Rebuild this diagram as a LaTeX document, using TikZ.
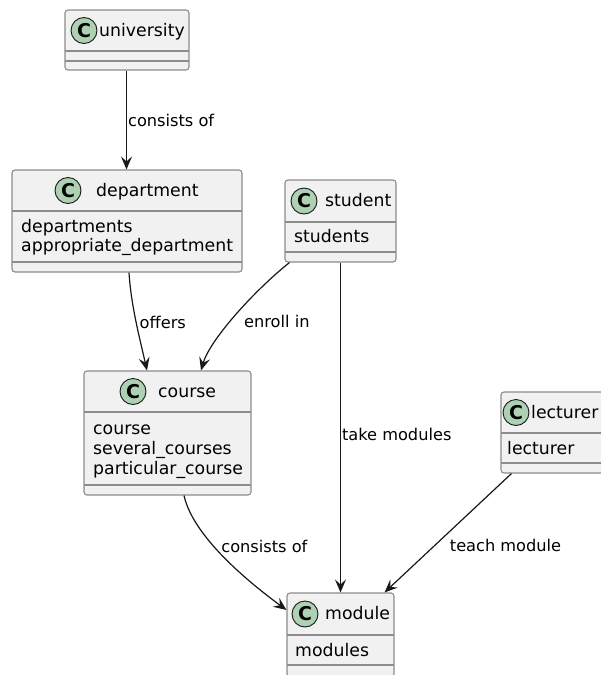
\documentclass[tikz,border=0pt]{standalone}
\usepackage{fontspec}
\setmainfont{DejaVu Sans}
\usepackage{tikz}
\usetikzlibrary{arrows.meta}

\definecolor{boxfill}{HTML}{F1F1F1}
\definecolor{boxline}{HTML}{8C8C8C}
\definecolor{circfill}{HTML}{ADD1B2}
\definecolor{arrline}{HTML}{181818}

\begin{document}
\begin{tikzpicture}[x=1pt, y=-1pt]

\tikzstyle{class_box} = [draw=boxline, fill=boxfill, line width=1.1pt, rounded corners=3pt, inner sep=0pt]
\tikzstyle{divider} = [draw=boxline, line width=1.1pt]
\tikzstyle{class_c} = [circle, draw=arrline, fill=circfill, line width=0.9pt, minimum size=26pt, inner sep=0pt, font=\fontsize{19}{19}\selectfont\bfseries]
\tikzstyle{class_name} = [anchor=base west, inner sep=0pt, font=\fontsize{17.3}{20}\selectfont]
\tikzstyle{field} = [anchor=base west, inner sep=0pt, font=\fontsize{17.3}{20}\selectfont]
\tikzstyle{edge_label} = [inner sep=1pt, font=\fontsize{16.2}{18}\selectfont]
\tikzstyle{assoc} = [-{Stealth[length=13pt, width=11pt, inset=5pt]}, draw=arrline, line width=1.2pt]

	\useasboundingbox (0,0) rectangle (601,675);
	\clip (0,0) rectangle (601,675);

%------------------------------------------------------------
	\node[class_box, minimum width=124pt, minimum height=60pt] (univ) at (127,40) {};
	\draw[divider] (65,51) -- (189,51);
	\draw[divider] (65,61) -- (189,61);
	\node[class_c] (univ_c) at (84,30.5) {C};
	\node[class_name] (univ_n) at (99,36) {university};

%------------------------------------------------------------
	\node[class_box, minimum width=230pt, minimum height=102pt] (dept) at (127,221) {};
	\draw[divider] (12,211) -- (242,211);
	\draw[divider] (12,262) -- (242,262);
	\node[class_c] (dept_c) at (68,190.5) {C};
	\node[class_name] (dept_n) at (96,196) {department};
	\node[field] (dept_f1) at (21,232) {departments};
	\node[field] (dept_f2) at (21,251.5) {appropriate\_department};

%------------------------------------------------------------
	\node[class_box, minimum width=111pt, minimum height=82pt] (stud) at (340.5,221) {};
	\draw[divider] (285,222) -- (396,222);
	\draw[divider] (285,252) -- (396,252);
	\node[class_c] (stud_c) at (304,201) {C};
	\node[class_name] (stud_n) at (325,206.5) {student};
	\node[field] (stud_f1) at (294,242.7) {students};

%------------------------------------------------------------
	\node[class_box, minimum width=167pt, minimum height=124pt] (crs) at (167.5,433) {};
	\draw[divider] (84,412) -- (251,412);
	\draw[divider] (84,485) -- (251,485);
	\node[class_c] (crs_c) at (133,391.5) {C};
	\node[class_name] (crs_n) at (158,397) {course};
	\node[field] (crs_f1) at (93,434) {course};
	\node[field] (crs_f2) at (93,454.3) {several\_courses};
	\node[field] (crs_f3) at (93,474.3) {particular\_course};

%------------------------------------------------------------
	\node[class_box, minimum width=113pt, minimum height=81pt] (lect) at (557.5,432.5) {};
	\draw[divider] (501,433) -- (614,433);
	\draw[divider] (501,463) -- (614,463);
	\node[class_c] (lect_c) at (516,412.5) {C};
	\node[class_name] (lect_n) at (531,418) {lecturer};
	\node[field] (lect_f1) at (507,454) {lecturer};

%------------------------------------------------------------
	\node[class_box, minimum width=107pt, minimum height=84pt] (mod) at (340.5,635) {};
	\draw[divider] (287,635) -- (394,635);
	\draw[divider] (287,665) -- (394,665);
	\node[class_c] (mod_c) at (305,614) {C};
	\node[class_name] (mod_n) at (325,619.5) {module};
	\node[field] (mod_f1) at (295,656) {modules};

%------------------------------------------------------------
	\draw[assoc] ([xshift=-0.5pt]univ.south) -- node[edge_label, right] (lab_univ) {consists of} ([xshift=-0.5pt]dept.north);
	\draw[assoc] ([xshift=2pt]dept.south) .. controls +(2,33) and +(-7,-31) .. ([xshift=-20.5pt]crs.north)
		node[edge_label, pos=0.5, right=2pt] (lab_dept) {offers};
	\draw[assoc] ([xshift=5pt]stud.south west) .. controls +(-35,28) and +(9,-31) .. ([xshift=33.5pt]crs.north)
		node[edge_label, pos=0.55, right=12pt] (lab_enroll) {enroll in};
	\draw[assoc] (stud) -- node[edge_label, pos=0.52, right] (lab_take) {take modules} (mod);
	\draw[assoc] ([xshift=16.5pt]crs.south) .. controls +(10,45) and +(-27,-20) .. ([yshift=25pt]mod.west)
		node[edge_label, pos=0.38, right=5.5pt] (lab_crs) {consists of};
	\draw[assoc] ([xshift=11pt]lect.south west) -- node[edge_label, pos=0.604, right=13.5pt] (lab_teach) {teach module} ([xshift=-10pt]mod.north east);

\end{tikzpicture}
\end{document}
